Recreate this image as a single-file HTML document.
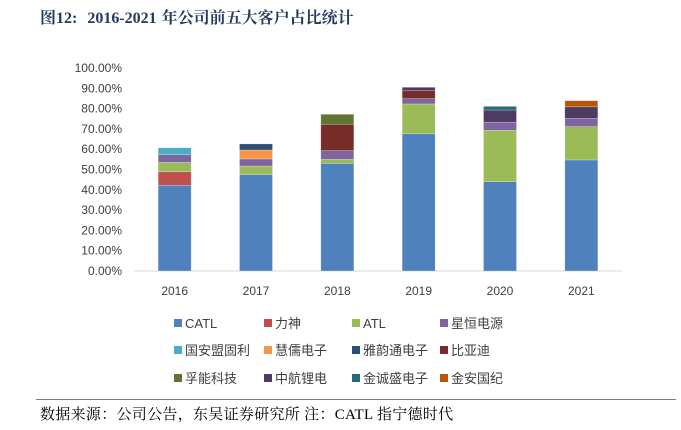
<!DOCTYPE html>
<html><head><meta charset="utf-8"><style>
body{margin:0;width:681px;height:430px;background:#fff;overflow:hidden;position:relative;font-family:"Liberation Sans","Noto Sans CJK SC",sans-serif}
.title{position:absolute;left:40px;top:5px;font:bold 16px "Liberation Serif","Noto Serif CJK SC",serif;color:#243b5e;letter-spacing:0px;word-spacing:1px}
.src{position:absolute;left:40px;top:403px;font:15px "Liberation Serif","Noto Serif CJK SC",serif;color:#000;letter-spacing:0.3px}
.hr{position:absolute;left:36px;width:640px;height:1px;background:#7f7f7f}
</style></head><body>
<div class="title">图12:&nbsp;&nbsp;2016-2021 年公司前五大客户占比统计</div>
<div class="hr" style="top:399px"></div>
<div class="src">数据来源：公司公告，东吴证券研究所 注：CATL 指宁德时代</div>
<svg id="c" width="681" height="430" style="position:absolute;left:0;top:0"></svg>
<script>
const years=["2016","2017","2018","2019","2020","2021"];
const names=["CATL","力神","ATL","星恒电源","国安盟固利","慧儒电子","雅韵通电子","比亚迪","孚能科技","中航锂电","金诚盛电子","金安国纪"];
const colors=["#4f81bd","#c0504d","#9bbb59","#8064a2","#4bacc6","#f79646","#2c4d75","#772c2a","#5f7530","#4d3b62","#276a7c","#b65708"];
const v2016=[42.2,6.7,4.6,3.8,3.4,0,0,0,0,0,0,0];
const v2017=[47.5,0,4.2,3.5,0,4.4,3.0,0,0,0,0,0];
const v2018=[53.0,0,2.0,4.3,0,0,0,13.0,4.9,0,0,0];
const v2019=[67.6,0,14.7,2.6,0,0,0,3.9,0,1.7,0,0];
const v2020=[44.0,0,25.3,4.0,0,0,0,0,0,6.0,1.8,0];
const v2021=[54.7,0,16.4,4.1,0,0,0,0,0,5.7,0,3.0];
const yTicks=[0,10,20,30,40,50,60,70,80,90,100];
const series=[v2016,v2017,v2018,v2019,v2020,v2021];
const svg=document.getElementById('c');const NS="http://www.w3.org/2000/svg";
const y0=271,y1=68,x0=134,x1=622;
const y=v=>y0-(v/100)*(y0-y1);
const bw=(x1-x0)/years.length;
const xc=i=>x0+bw*(i+0.5);
function mk(t,a){const e=document.createElementNS(NS,t);for(const k in a)e.setAttribute(k,a[k]);svg.appendChild(e);return e;}
yTicks.forEach(t=>{const e=mk('text',{x:122,y:y(t)+4,'text-anchor':'end','font-size':12,fill:'#404040'});e.textContent=t.toFixed(2)+'%';

});
const ax=mk('line',{x1:x0,x2:x1,y1:y0,y2:y0,stroke:'#d9d9d9'});


years.forEach((yr,i)=>{let acc=0;series[i].forEach((v,k)=>{if(!v)return;
const r=mk('rect',{x:xc(i)-16.5,y:y(acc+v),width:33,height:y(acc)-y(acc+v),fill:colors[k],stroke:'#fff','stroke-opacity':0.4,'stroke-width':0.6});


acc+=v;});
const t=mk('text',{x:xc(i),y:295,'text-anchor':'middle','font-size':12,fill:'#404040'});t.textContent=yr;

});
const lx=[178,268,356,444],ly=[323,350,378];
names.forEach((n,k)=>{const cx=lx[k%4],cy=ly[Math.floor(k/4)];
const s=mk('rect',{x:cx-4,y:cy-4,width:8,height:8,fill:colors[k]});


const t=mk('text',{x:cx+7,y:cy+5,'font-size':13,fill:'#404040'});t.textContent=n;

});
</script>
</body></html>
